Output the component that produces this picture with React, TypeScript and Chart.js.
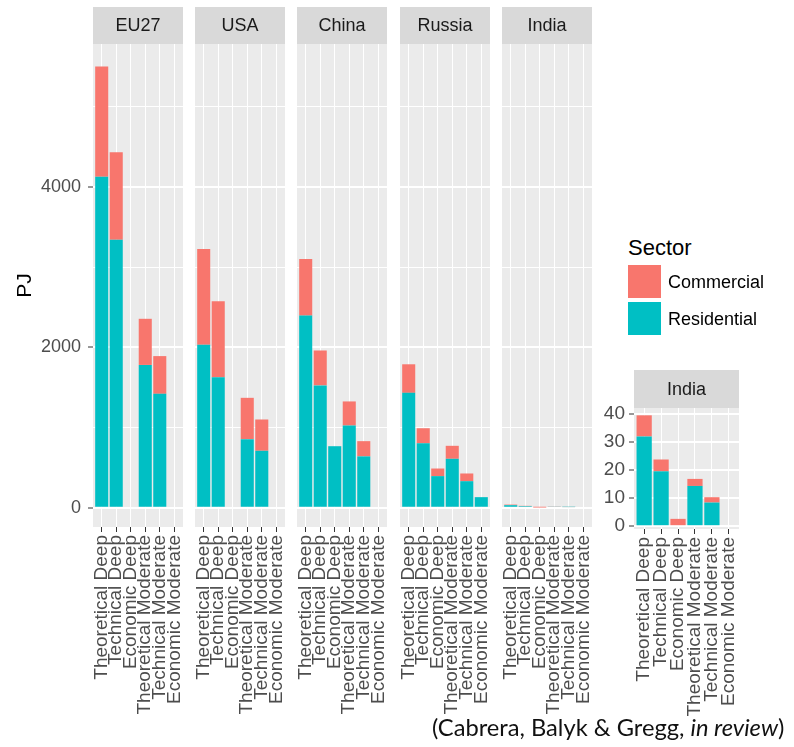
import React, { useEffect, useRef } from "react";
import { Chart, registerables } from "chart.js";

Chart.register(...registerables);

// ---------------- data ----------------
const categories = [
  "Theoretical Deep",
  "Technical Deep",
  "Economic Deep",
  "Theoretical Moderate",
  "Technical Moderate",
  "Economic Moderate",
];
const seriesNames = ["Commercial", "Residential"];
const seriesColors = ["#F8766D", "#00BFC4"];

const eu27Residential = [4125, 3340, 0, 1780, 1420, 0];
const eu27Commercial = [1375, 1090, 0, 575, 470, 0];
const usaResidential = [2030, 1625, 0, 855, 710, 0];
const usaCommercial = [1195, 950, 0, 515, 390, 0];
const chinaResidential = [2395, 1525, 767, 1025, 640, 0];
const chinaCommercial = [705, 435, 0, 300, 190, 0];
const russiaResidential = [1432, 804, 394, 610, 331, 132];
const russiaCommercial = [356, 187, 95, 162, 96, 0];
const indiaResidential = [31.9, 19.5, 0, 14.3, 8.4, 0];
const indiaCommercial = [7.5, 4.2, 2.6, 2.5, 1.9, 0];

const regions = ["EU27", "USA", "China", "Russia", "India"];
const regionResidential = [eu27Residential, usaResidential, chinaResidential, russiaResidential, indiaResidential];
const regionCommercial = [eu27Commercial, usaCommercial, chinaCommercial, russiaCommercial, indiaCommercial];

const mainYTicks = [0, 1000, 2000, 3000, 4000, 5000];
const mainYLabels = [0, 2000, 4000];
const insetYTicks = [0, 5, 10, 15, 20, 25, 30, 35, 40];
const insetYLabels = [0, 10, 20, 30, 40];
const yTitle = "PJ";
const legendTitle = "Sector";
const caption = "(Cabrera, Balyk & Gregg, ";
const captionItalic = "in review";

// ---------------- styling ----------------
const FONT = "'Liberation Sans', Arial, Helvetica, sans-serif";
const PANEL_BG = "#ebebeb";
const STRIP_BG = "#d9d9d9";
const AXIS_TEXT = "#4d4d4d";
const X_EXPAND = 0.6;

const stripPlugin = {
  id: "strip",
  beforeDraw(chart: any, _args: any, opts: any) {
    const { ctx, chartArea } = chart;
    ctx.save();
    ctx.fillStyle = STRIP_BG;
    ctx.fillRect(chartArea.left, chartArea.top - opts.height, chartArea.right - chartArea.left, opts.height);
    ctx.fillStyle = PANEL_BG;
    ctx.fillRect(chartArea.left, chartArea.top, chartArea.right - chartArea.left, chartArea.bottom - chartArea.top);
    ctx.fillStyle = "#1a1a1a";
    ctx.font = `18px ${FONT}`;
    ctx.textAlign = "center";
    ctx.textBaseline = "middle";
    ctx.fillText(opts.text, (chartArea.left + chartArea.right) / 2, chartArea.top - opts.height / 2 + 1);
    ctx.restore();
  },
};

type FacetProps = {
  title: string;
  residential: number[];
  commercial: number[];
  left: number;
  top: number;
  width: number;
  height: number;
  axisWidth: number;
  padLeft: number;
  padRight: number;
  padTop: number;
  stripH: number;
  areaBottom: number;
  yMin: number;
  yMax: number;
  yTicks: number[];
  yLabels: number[];
  showY: boolean;
  yFontSize: number;
  yPad: number;
  showTitle: boolean;
};

function Facet(p: FacetProps) {
  const ref = useRef<HTMLCanvasElement>(null);
  useEffect(() => {
    const idx = categories.map((_c, i) => i);
    const chart = new Chart(ref.current as HTMLCanvasElement, {
      type: "bar",
      data: {
        datasets: [
          {
            label: seriesNames[1],
            data: p.residential.map((v, i) => ({ x: i, y: v })),
            backgroundColor: seriesColors[1],
            borderWidth: 0,
            barPercentage: 0.9,
            categoryPercentage: 1,
          },
          {
            label: seriesNames[0],
            data: p.commercial.map((v, i) => ({ x: i, y: v })),
            backgroundColor: seriesColors[0],
            borderWidth: 0,
            barPercentage: 0.9,
            categoryPercentage: 1,
          },
        ],
      },
      options: {
        animation: false,
        responsive: false,
        events: [],
        layout: { padding: { left: p.padLeft, right: p.padRight, top: p.padTop, bottom: 0 } },
        plugins: {
          legend: { display: false },
          tooltip: { enabled: false },
          title: { display: false },
          // @ts-ignore
          strip: { text: p.title, height: p.stripH },
        },
        scales: {
          x: {
            type: "linear",
            stacked: true,
            offset: false,
            min: -X_EXPAND,
            max: categories.length - 1 + X_EXPAND,
            border: { display: false },
            afterBuildTicks: (s: any) => {
              s.ticks = idx.map((v) => ({ value: v }));
            },
            grid: {
              offset: false,
              color: "#ffffff",
              lineWidth: 1,
              drawTicks: true,
              tickLength: 5,
              tickColor: "#333333",
            },
            ticks: {
              autoSkip: false,
              minRotation: 90,
              maxRotation: 90,
              padding: 3,
              color: AXIS_TEXT,
              font: { family: FONT, size: 19 },
              callback: (v: any) => categories[Math.round(Number(v))],
            },
            afterFit: (s: any) => {
              s.height = p.height - p.areaBottom;
            },
          },
          y: {
            stacked: true,
            min: p.yMin,
            max: p.yMax,
            border: { display: false },
            afterBuildTicks: (s: any) => {
              s.ticks = p.yTicks.map((v) => ({ value: v }));
            },
            grid: {
              color: "#ffffff",
              lineWidth: (c: any) => (p.yLabels.includes(c.tick && c.tick.value) ? 2 : 1),
              drawTicks: p.showY,
              tickLength: p.showY ? 5 : 0,
              tickWidth: 1,
              tickColor: (c: any) =>
                p.showY && p.yLabels.includes(c.tick && c.tick.value) ? "#333333" : "rgba(0,0,0,0)",
            },
            ticks: {
              display: p.showY,
              padding: p.yPad,
              color: AXIS_TEXT,
              font: { family: FONT, size: p.yFontSize },
              callback: (v: any) => (p.yLabels.includes(Number(v)) ? String(v) : ""),
            },
            title: {
              display: p.showTitle,
              text: yTitle,
              color: "#000000",
              font: { family: FONT, size: 21 },
              padding: { top: 13, bottom: 0 },
            },
            afterFit: (s: any) => {
              s.width = p.axisWidth;
            },
          },
        },
      },
      plugins: [stripPlugin as any],
    });
    return () => chart.destroy();
  }, []);
  return (
    <canvas
      ref={ref}
      width={p.width}
      height={p.height}
      style={{ position: "absolute", left: p.left, top: p.top, width: p.width, height: p.height }}
    />
  );
}

const panelLefts = [93, 195, 297, 400, 502];
const PANEL_W = 90;
const SIDE = 22;

export default function App() {
  return (
    <div
      style={{
        position: "absolute",
        left: 0,
        top: 0,
        width: 794,
        height: 747,
        background: "#ffffff",
        overflow: "hidden",
        fontFamily: FONT,
      }}
    >
      {regions.map((r, i) => {
        const first = i === 0;
        return (
          <Facet
            key={r}
            title={r}
            residential={regionResidential[i]}
            commercial={regionCommercial[i]}
            left={first ? 0 : panelLefts[i] - SIDE}
            top={0}
            width={first ? panelLefts[0] + PANEL_W + SIDE : PANEL_W + 2 * SIDE}
            height={735}
            axisWidth={first ? panelLefts[0] : 0}
            padLeft={first ? 0 : SIDE}
            padRight={SIDE}
            padTop={44}
            stripH={37}
            areaBottom={527}
            yMin={-240}
            yMax={5780}
            yTicks={mainYTicks}
            yLabels={mainYLabels}
            showY={first}
            yFontSize={18}
            yPad={7}
            showTitle={first}
          />
        );
      })}
      <Facet
        title={regions[4]}
        residential={indiaResidential}
        commercial={indiaCommercial}
        left={580}
        top={360}
        width={54 + 105 + SIDE}
        height={375}
        axisWidth={54}
        padLeft={0}
        padRight={SIDE}
        padTop={48}
        stripH={38}
        areaBottom={169}
        yMin={-1}
        yMax={42}
        yTicks={insetYTicks}
        yLabels={insetYLabels}
        showY={true}
        yFontSize={19}
        yPad={4}
        showTitle={false}
      />
      <div style={{ position: "absolute", left: 628, top: 234, fontSize: 22, lineHeight: "28px", color: "#000" }}>
        {legendTitle}
      </div>
      {seriesNames.map((n, i) => (
        <div key={n}>
          <div
            style={{
              position: "absolute",
              left: 628,
              top: 265 + i * 36.7,
              width: 33,
              height: 33,
              background: seriesColors[i],
            }}
          />
          <div
            style={{
              position: "absolute",
              left: 668,
              top: 271 + i * 36.7,
              fontSize: 18,
              lineHeight: "22px",
              color: "#000",
            }}
          >
            {n}
          </div>
        </div>
      ))}
      <div
        style={{
          position: "absolute",
          left: 432,
          top: 713,
          fontSize: 23.7,
          lineHeight: "28px",
          color: "#111",
          fontFamily: "Lato, 'Open Sans', sans-serif",
          whiteSpace: "nowrap",
        }}
      >
        {caption}
        <i>{captionItalic}</i>)
      </div>
    </div>
  );
}
